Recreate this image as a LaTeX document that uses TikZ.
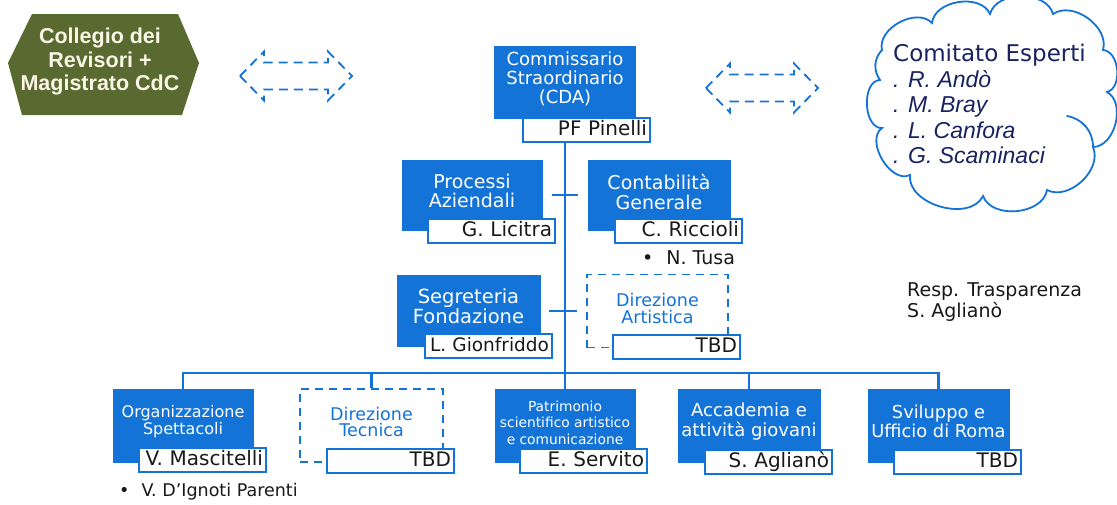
\documentclass[tikz,border=0pt]{standalone}
\usepackage{fontspec}
\setmainfont{DejaVu Sans}
\newfontfamily\libsans{Liberation Sans}
\usetikzlibrary{calc}
\definecolor{cblue}{RGB}{20,115,215}
\definecolor{olivebox}{RGB}{88,106,48}
\definecolor{navy}{RGB}{25,35,95}
\definecolor{ink}{RGB}{25,25,25}
\definecolor{cream}{RGB}{250,246,230}
\newcommand{\fs}[2]{\fontsize{#1}{#2}\selectfont}
\begin{document}
\begin{tikzpicture}[x=1pt,y=-1pt,
  bluebox/.style={fill=cblue, draw=cblue, line width=0.5pt, inner sep=0pt},
  dashbox/.style={draw=cblue, dash pattern=on 8pt off 6pt, line width=1.8pt, fill=white, inner sep=0pt},
  btext/.style={text=white, align=center, inner sep=0pt},
  dtext/.style={text=cblue, align=center, inner sep=0pt, font=\fs{17.5}{17}},
  namebox/.style={draw=cblue, fill=white, line width=1.8pt, text=ink, text width=121pt, align=right,
    inner xsep=3pt, inner ysep=0pt, minimum height=24pt, text height=14.5pt, text depth=3.5pt, font=\fs{20}{20}},
  link/.style={draw=cblue, line width=2.4pt},
  cloudline/.style={draw=cblue, line width=1.8pt, line cap=round},
  dasharr/.style={draw=cblue, line width=1.8pt, dash pattern=on 9pt off 6pt},
  dblarr/.pic={\path[dasharr] (-56,0) -- (-32,-24.5) -- (-32,-13.5) -- (32,-13.5) -- (32,-24.5) -- (56,0)
      -- (32,24.5) -- (32,13.5) -- (-32,13.5) -- (-32,24.5) -- cycle;}
]
\useasboundingbox (0,0) rectangle (1117,504);
\fill[white] (0,0) rectangle (1117,504);

% Collegio
\fill[olivebox] (8,63) -- (32,14) -- (178,14) -- (199,63) -- (182,115) -- (22,115) -- cycle;
\node[text=cream, align=center, inner sep=0pt, font=\libsans\bfseries\fs{21.5}{23.5}] (coll) at (100,61.5)
  {Collegio dei\\Revisori +\\Magistrato CdC};

% dashed double arrows
\pic at (296,76) {dblarr};
\pic at (762,88) {dblarr};

% cloud
\path[cloudline] (882,50) to[bend left=75] (932,23) to[bend left=75] (990,14) to[bend left=75] (1053,14)
  to[bend left=70] (1103,50) to[bend left=80] (1107,92) to[bend left=75] (1093,147)
  to[bend left=70] (1047,190) to[bend left=75] (983,196) to[bend left=80] (910,175)
  to[bend left=85] (882,128) to[bend left=90] (880,80) to[bend left=40] cycle;
\path[cloudline] (1067,116) to[bend left=40] (1093,147);
\node[anchor=west, align=left, text=navy, inner sep=0pt, font=\fs{23}{25.5}] (cexp) at (893,104)
  {Comitato Esperti\\
   {\libsans\itshape\fontsize{23}{25.5}\selectfont . R. Andò}\\
   {\libsans\itshape\fontsize{23}{25.5}\selectfont . M. Bray}\\
   {\libsans\itshape\fontsize{23}{25.5}\selectfont . L. Canfora}\\
   {\libsans\itshape\fontsize{23}{25.5}\selectfont . G. Scaminaci}};

% Resp. Trasparenza
\node[anchor=west, align=left, text=ink, inner sep=0pt, font=\fs{19}{21}] (resp) at (907,302)
  {Resp. Trasparenza\\S. Aglianò};

% Blue boxes
\node[bluebox, minimum width=141pt, minimum height=72pt] (comm) at (565,82) {};
\node[bluebox, minimum width=140pt, minimum height=70pt] (proc) at (472,195) {};
\node[bluebox, minimum width=142pt, minimum height=70pt] (cont) at (659,195) {};
\node[bluebox, minimum width=143pt, minimum height=71pt] (sgr) at (468.5,311) {};
\node[dashbox, minimum width=141pt, minimum height=73pt] (dart) at (657.5,311) {};
\node[bluebox, minimum width=140pt, minimum height=73pt] (org) at (183,425.5) {};
\node[dashbox, minimum width=143pt, minimum height=73pt] (dtec) at (371.5,425.5) {};
\node[bluebox, minimum width=140pt, minimum height=73pt] (patr) at (565,425.5) {};
\node[bluebox, minimum width=142pt, minimum height=73pt] (acad) at (749,425.5) {};
\node[bluebox, minimum width=141pt, minimum height=73pt] (svil) at (938.5,425.5) {};

% Box texts
\node[btext, font=\fs{18}{19}] (commt) at ([yshift=3pt]comm.center) {Commissario\\Straordinario\\(CDA)};
\node[btext, font=\fs{19}{18.5}] (proct) at ([yshift=4pt]proc.center) {Processi\\Aziendali};
\node[btext, font=\fs{19}{19.5}] (contt) at ([yshift=3pt]cont.center) {Contabilità\\Generale};
\node[btext, font=\fs{19.5}{20}] (sgrt) at ([yshift=5pt]sgr.center) {Segreteria\\Fondazione};
\node[dtext] (dartt) at ([yshift=3pt]dart.center) {Direzione\\Artistica};
\node[btext, font=\fs{16}{17}] (orgt) at ([yshift=4pt]org.center) {Organizzazione\\Spettacoli};
\node[dtext, font=\fs{17.5}{16}] (dtect) at ([yshift=4pt]dtec.center) {Direzione\\Tecnica};
\node[btext, font=\fs{13.8}{16.5}] (patrt) at ([yshift=3pt]patr.center) {Patrimonio\\scientifico artistico\\e comunicazione};
\node[btext, font=\fs{18}{19.5}] (acadt) at ([yshift=4pt]acad.center) {Accademia e\\attività giovani};
\node[btext, font=\fs{17.8}{18.5}] (svilt) at ([yshift=4pt]svil.center) {Sviluppo e\\Ufficio di Roma};

% Connectors
\coordinate (bus) at (0,373);
\draw[link] (comm.south) -- (patr.north);
\draw[link, shorten <=10pt, shorten >=10pt] (proc.east) -- (cont.west);
\draw[link, shorten <=9pt, shorten >=9pt] (sgr.east) -- (dart.west);
\draw[link, line join=miter] (org.north) -- (org.north |- bus) -- (svil.north |- bus) -- (svil.north);
\draw[link] (dtec.north) -- (dtec.north |- bus);
\draw[link] (acad.north) -- (acad.north |- bus);

% Name boxes
\node[namebox] (commn) at (586.5,130) {\mbox{PF Pinelli}};
\node[namebox] (procn) at (491.5,231) {\mbox{G. Licitra}};
\node[namebox] (contn) at (678.5,231) {\mbox{C. Riccioli}};
\node[namebox, font=\fs{18.5}{18.5}] (sgrn) at (488.5,346) {\mbox{L. Gionfriddo}};
\node[namebox] (dartn) at (676.5,347) {TBD};
\node[namebox] (orgn) at (202.5,460) {\mbox{V. Mascitelli}};
\node[namebox] (dtecn) at (390.5,461) {TBD};
\node[namebox] (patrn) at (583.5,461) {\mbox{E. Servito}};
\node[namebox] (acadn) at (768.5,462) {\mbox{S. Aglianò}};
\node[namebox] (syiln) at (957.5,462) {TBD};

% bullets
\node[anchor=west, text=ink, inner sep=0pt, font=\fs{19}{19}] (tusa) at (642,258) {•\hspace{13pt}N. Tusa};
\node[anchor=west, text=ink, inner sep=0pt, font=\fs{17.5}{17.5}] (dign) at (119,492) {•\hspace{12pt}V. D’Ignoti Parenti};
\end{tikzpicture}
\end{document}
